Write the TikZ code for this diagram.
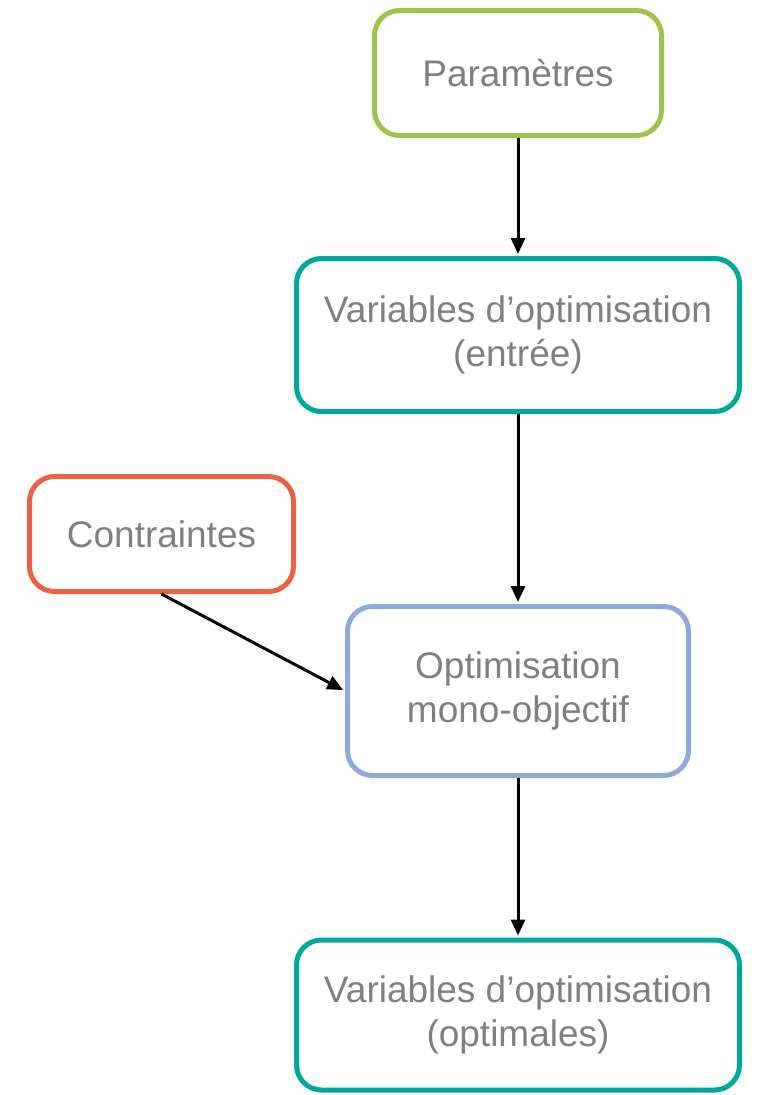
\documentclass[tikz,border=0pt]{standalone}
\usepackage{fontspec}
\setmainfont{Liberation Sans}
\usetikzlibrary{arrows.meta}
\definecolor{cgreen}{RGB}{157,195,74}
\definecolor{cteal}{RGB}{0,168,152}
\definecolor{cred}{RGB}{236,97,68}
\definecolor{cblue}{RGB}{142,170,219}
\definecolor{ctext}{RGB}{127,127,127}
\begin{document}
\begin{tikzpicture}[x=1pt,y=1pt,
  box/.style={draw, line width=5pt, rounded corners=25pt, inner sep=0pt, align=center,
    text=ctext, font=\fontsize{37}{44}\selectfont, fill=white},
  conn/.style={line width=3pt, -{Triangle[length=16pt,width=14pt]}, shorten >=2pt}]
\useasboundingbox (0,0) rectangle (756,-1095);
\node[box, draw=cgreen, minimum width=287pt, minimum height=125pt] (p) at (518,-73) {Paramètres};
\node[box, draw=cteal, minimum width=443pt, minimum height=153pt] (v1) at (518,-335) {Variables d’optimisation\\(entrée)};
\node[box, draw=cred, minimum width=264pt, minimum height=115pt] (c) at (161.5,-534) {Contraintes};
\node[box, draw=cblue, minimum width=341pt, minimum height=169pt] (o) at (518,-691) {Optimisation\\mono-objectif};
\node[box, draw=cteal, minimum width=443pt, minimum height=150pt] (v2) at (518,-1015) {Variables d’optimisation\\(optimales)};
\draw[conn] (p.south) -- (v1.north);
\draw[conn] (v1.south) -- (o.north);
\draw[conn] (o.south) -- (v2.north);
\draw[conn] (c.south) -- (o.west);
\end{tikzpicture}
\end{document}
